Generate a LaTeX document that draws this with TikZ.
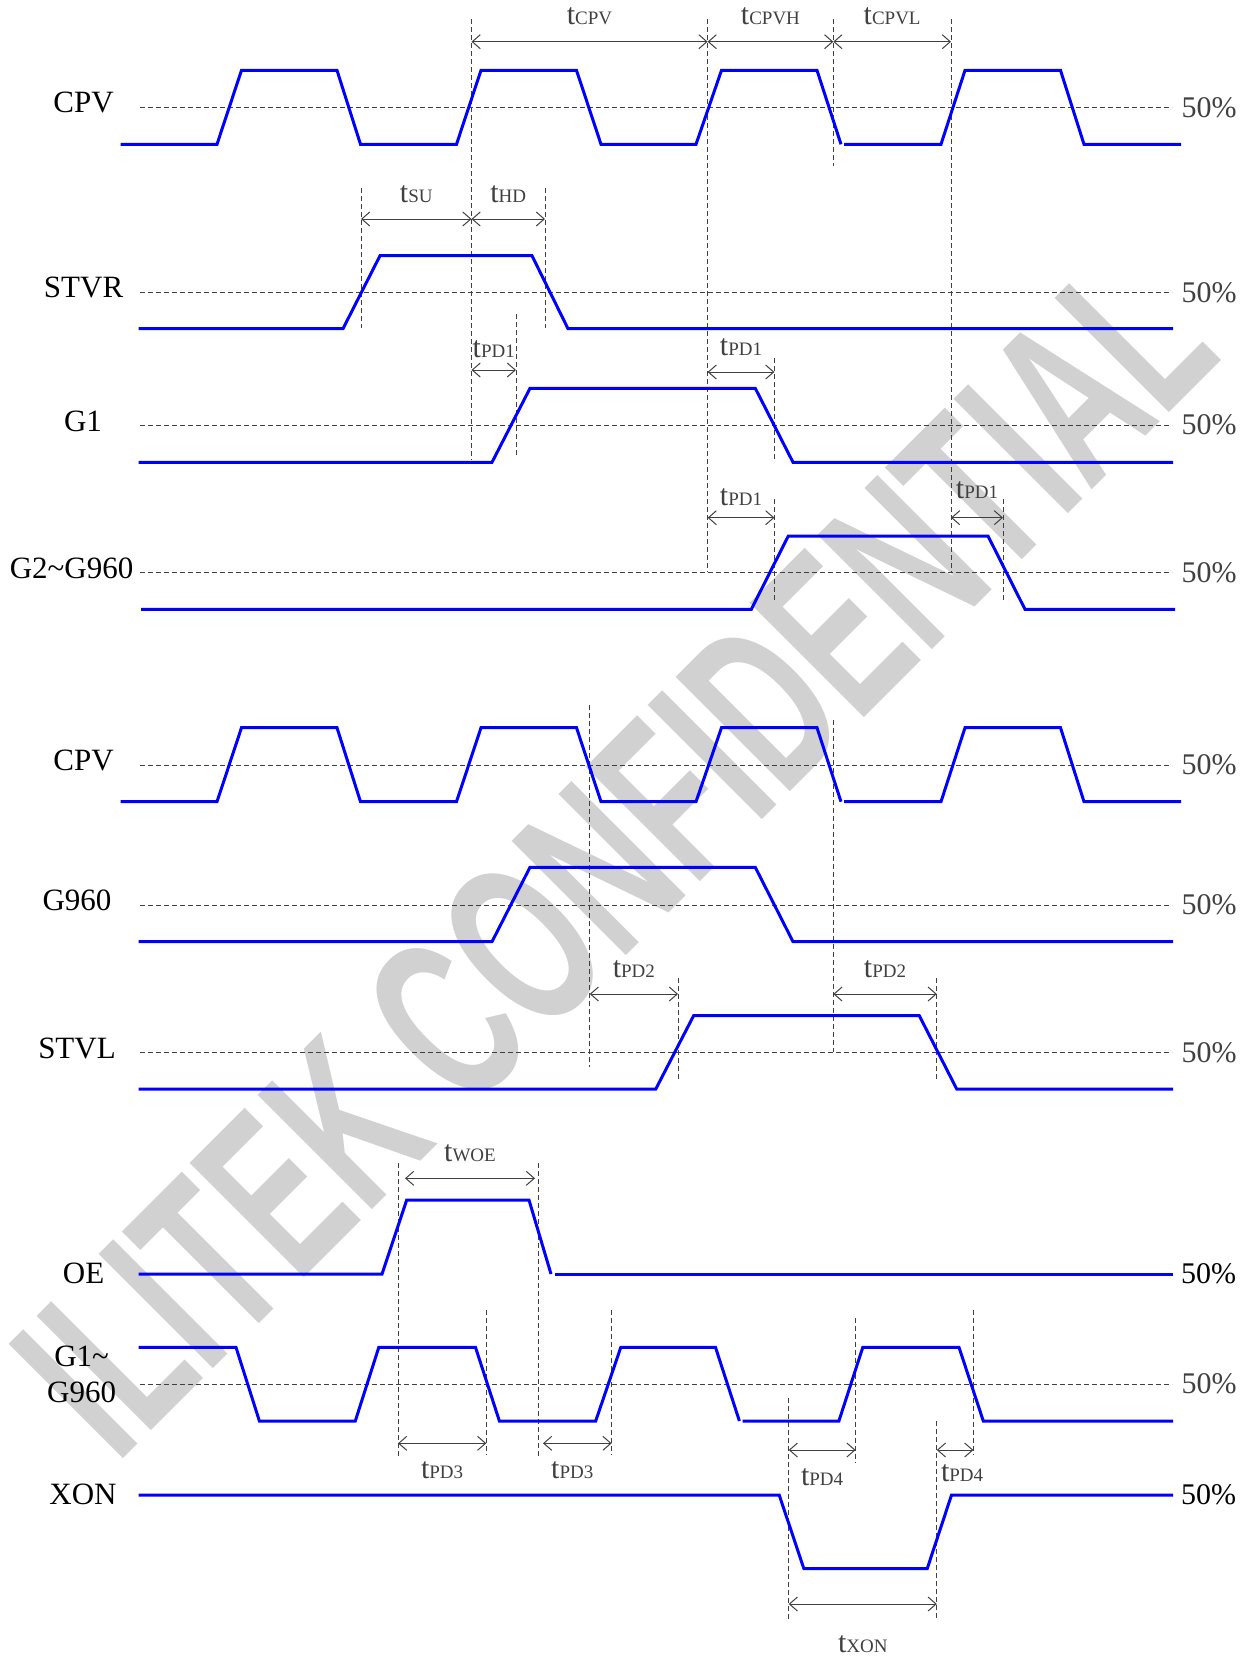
\documentclass[tikz,border=0pt]{standalone}
\usepackage{fontspec}
\setmainfont{Liberation Serif}
\newfontfamily\stampfont{Liberation Sans}
\usetikzlibrary{arrows.meta}
\newcommand{\tsub}[1]{{\fontsize{30}{34}\selectfont t}{\fontsize{19}{22}\selectfont #1}}

\begin{document}
\begin{tikzpicture}[x=1pt,y=-1pt,
    wave/.style={blue,line width=3pt},
    half/.style={black!75,line width=1pt,dash pattern=on 5pt off 3pt},
    span/.style={black!75,line width=1pt,{Straight Barb[length=8pt,width=14pt]}-{Straight Barb[length=8pt,width=14pt]}},
    sig/.style={font=\fontsize{31}{36}\selectfont,align=center},
    pct/.style={font=\fontsize{30}{34}\selectfont,anchor=west,inner sep=0pt,xshift=9pt},
    lab/.style={midway,inner sep=0pt},
    labup/.style={lab,yshift=25pt},
    labdown/.style={lab,yshift=-27pt},
    stamp/.style={text=black!18,inner sep=0pt,font=\stampfont\bfseries\fontsize{235}{240}\selectfont}]

  \useasboundingbox (0,0) rectangle (1248,1657);

  % watermark behind everything
  \node[stamp,rotate=45,anchor=base west] (stamp) at (116,1466) {\scalebox{0.613}[1]{ILITEK CONFIDENTIAL}};

  % signal names
  \node[sig] (cpvA) at (83.6,102.7) {CPV};
  \node[sig] (stvr) at (83.6,287) {STVR};
  \node[sig] (gone) at (83,421.7) {G1};
  \node[sig] (gall) at (71.6,568) {G2\textasciitilde G960};
  \node[sig] (cpvB) at (83.6,760) {CPV};
  \node[sig] (glast) at (77,900) {G960};
  \node[sig] (stvl) at (77,1048) {STVL};
  \node[sig] (oe) at (83.6,1273) {OE};
  \node[sig] (gscan) at (81.6,1374.7) {G1\textasciitilde\\G960};
  \node[sig] (xon) at (83,1494) {XON};

  % 50% levels
  \foreach \y [count=\i] in {107.7,292.3,425,572.3,765,905,1052.3,1384}
    \draw[half] (140,\y) -- (1172,\y) node[pct] (pct\i) {50\%};
  \node[pct] (pctoe) at (1172,1274) {50\%};
  \node[pct] (pctxon) at (1172,1495) {50\%};

  % guides
  \foreach \x/\a/\b in {471.5/19/460, 707.6/19/572, 833.3/19/165.7, 951/19/572,
      361/188/328, 545/188/328, 516/314/456, 774.4/358/460, 774.4/499/600,
      1003/499/600, 589.7/705/1066.7, 833.3/720/1052, 678/978/1080,
      936.8/978/1080, 398/1163/1456.7, 538/1163/1456.7, 486.3/1310/1455,
      611.6/1310/1455, 788.7/1398/1620, 936.8/1421/1620, 855.6/1318/1463,
      973.4/1310/1455}
    \draw[half] (\x,\a) -- (\x,\b);

  % waveforms
  \foreach \h/\l in {70.3/144.3, 727.7/801.7} {
    \draw[wave] (120.5,\l) -- (217,\l) -- (241.5,\h) -- (337,\h) -- (360.5,\l) -- (456.5,\l)
      -- (481,\h) -- (576.5,\h) -- (601,\l) -- (696,\l) -- (721.5,\h) -- (817,\h) -- (841,\l);
    \draw[wave] (844,\l) -- (941,\l) -- (965,\h) -- (1060.5,\h) -- (1084,\l) -- (1181,\l);
  }
  \draw[wave] (138.5,328.7) -- (343,328.7) -- (380,255.7) -- (532,255.7) -- (568,328.7) -- (1173,328.7);
  \foreach \h/\l in {388.3/462.3, 867.3/941.7}
    \draw[wave] (138.5,\l) -- (492,\l) -- (530,\h) -- (755.3,\h) -- (793,\l) -- (1173,\l);
  \draw[wave] (141,609.3) -- (751.3,609.3) -- (788.3,536) -- (988,536) -- (1025,609.3) -- (1175,609.3);
  \draw[wave] (138.5,1089) -- (655.8,1089) -- (693.6,1015.7) -- (919.3,1015.7) -- (956.7,1089) -- (1173,1089);
  \draw[wave] (138.5,1274) -- (382,1274) -- (406.7,1200) -- (529,1200) -- (551,1274);
  \draw[wave] (555,1274) -- (1173,1274);
  \draw[wave] (138.5,1347.3) -- (236,1347.3) -- (259.4,1421) -- (355.3,1421) -- (378.8,1347.3)
    -- (475.5,1347.3) -- (499.4,1421) -- (595.7,1421) -- (620.8,1347.3) -- (715.5,1347.3) -- (739.4,1421);
  \draw[wave] (742.6,1421) -- (838.9,1421) -- (862.8,1347.3) -- (959,1347.3) -- (983.3,1421) -- (1173,1421);
  \draw[wave] (138.5,1495) -- (779.2,1495) -- (803.9,1568.7) -- (927.2,1568.7) -- (951.5,1495) -- (1173,1495);

  % timing spans
  \draw[span] (471.5,41.7) -- node[labup] (tcpv) {\tsub{CPV}} (707.6,41.7);
  \draw[span] (707.6,41.7) -- node[labup] (tcpvh) {\tsub{CPVH}} (833.3,41.7);
  \draw[span] (833.3,41.7) -- node[labup] (tcpvl) {\tsub{CPVL}} (951,41.7);
  \draw[span] (361,219) -- node[labup] (tsu) {\tsub{SU}} (471.5,219);
  \draw[span] (471.5,219) -- node[labup] (thd) {\tsub{HD}} (545,219);
  \draw[span] (471.5,370) -- node[labup,yshift=-4pt] (tpdA) {\tsub{PD1}} (516,370);
  \draw[span] (707.6,372) -- node[labup] (tpdB) {\tsub{PD1}} (774.4,372);
  \draw[span] (707.6,517.7) -- node[labup,yshift=-4pt] (tpdC) {\tsub{PD1}} (774.4,517.7);
  \draw[span] (951,517.7) -- node[labup,yshift=3pt] (tpdD) {\tsub{PD1}} (1003,517.7);
  \draw[span] (589.7,994) -- node[labup] (tpdE) {\tsub{PD2}} (678,994);
  \draw[span] (833.3,994) -- node[labup] (tpdF) {\tsub{PD2}} (936.8,994);
  \draw[span] (405,1178.3) -- node[labup] (twoe) {\tsub{WOE}} (535,1178.3);
  \draw[span] (398,1443.3) -- node[labdown] (tpdG) {\tsub{PD3}} (486.3,1443.3);
  \draw[span] (543,1443.3) -- node[labdown,xshift=-5pt] (tpdH) {\tsub{PD3}} (611.6,1443.3);
  \draw[span] (788.7,1450) -- node[labdown] (tpdI) {\tsub{PD4}} (855.6,1450);
  \draw[span] (936.8,1450) -- node[labdown,yshift=4pt,xshift=7pt] (tpdJ) {\tsub{PD4}} (973.4,1450);
  \draw[span] (788.7,1604) -- node[labdown,yshift=-13pt] (txon) {\tsub{XON}} (936.8,1604);
\end{tikzpicture}
\end{document}
